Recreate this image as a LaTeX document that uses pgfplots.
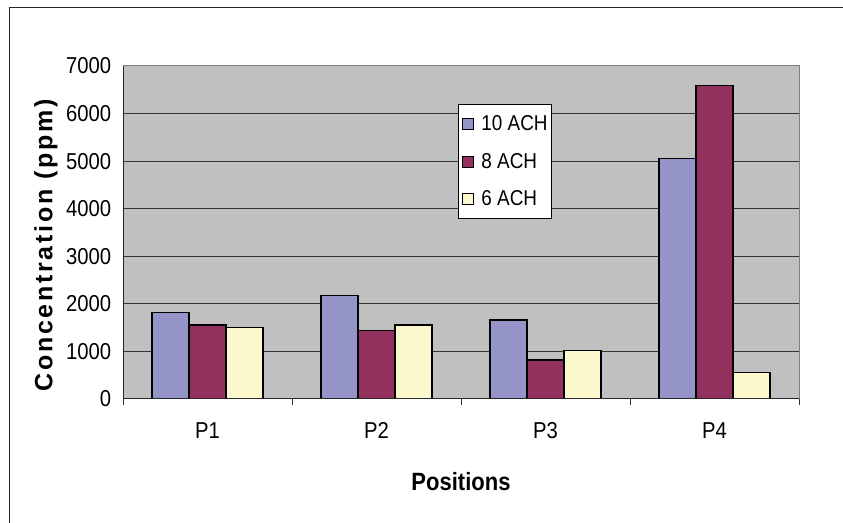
\documentclass[border=0pt]{standalone}
\usepackage{pgfplots}
\pgfplotsset{compat=1.18}
\usepackage{fontspec}
\setmainfont{Liberation Sans}[FakeStretch=0.88]
\newfontfamily\ylabfont{Liberation Sans}[LetterSpace=11]
\definecolor{bgc}{RGB}{192,192,192}
\definecolor{cA}{RGB}{148,148,200}
\definecolor{cB}{RGB}{146,48,94}
\definecolor{cC}{RGB}{251,248,206}
\definecolor{edgegray}{RGB}{128,128,128}
\begin{document}
\begin{tikzpicture}
\path[use as bounding box] (0pt,0pt) rectangle (843pt,522pt);
\fill[white] (0pt,0pt) rectangle (843pt,522pt);
\draw[line width=1.6pt, black!85] (9.5pt,-10pt) -- (9.5pt,514.5pt) -- (860pt,514.5pt);
\begin{axis}[
  at={(123pt,123pt)}, anchor=south west,
  scale only axis, width=676pt, height=333pt,
  xmin=0.5, xmax=4.5, ymin=0, ymax=7000,
  ybar=0pt, bar width=0.219,
  axis background/.style={fill=bgc},
  axis line style={edgegray, line width=1pt},
  xtick pos=bottom, ytick pos=left,
  xtick={1,2,3,4}, xticklabels={P1,P2,P3,P4},
  minor xtick={0.5,1.5,2.5,3.5,4.5},
  major x tick style={draw=none},
  minor x tick style={black!80, line width=1pt},
  minor tick length=6pt, tick align=outside,
  ytick={0,1000,2000,3000,4000,5000,6000,7000},
  major y tick style={draw=none},
  ymajorgrids, major grid style={black!80, line width=1pt},
  /pgf/number format/assume math mode=true,
  yticklabel style={font=\fontsize{23}{27}\selectfont, /pgf/number format/1000 sep={}, xshift=-4pt},
  xticklabel style={font=\fontsize{23}{27}\selectfont, yshift=-16pt},
  xlabel={Positions},
  xlabel style={font=\bfseries\fontsize{25}{30}\selectfont, at={(axis description cs:0.5,-0.249)}, anchor=center},
  ylabel={Concentration (ppm)},
  ylabel style={font=\ylabfont\bfseries\fontsize{25}{30}\selectfont, at={(axis description cs:-0.114,0.461)}, anchor=center},
  legend style={at={(0.4956,0.886)}, anchor=north west, draw=black, fill=white, line width=0.8pt,
    font=\fontsize{21.5}{26}\selectfont, row sep=17pt, inner xsep=2pt, inner ysep=9.5pt},
  legend cell align=left,
  legend image code/.code={\draw[#1, line width=0.8pt] (2pt,-5.5pt) rectangle (13pt,5.5pt); \path[draw=none, fill=none] (0pt,0pt) -- (19pt,0pt);},
  every axis plot/.append style={draw=black, line width=1.2pt},
]
\addplot[fill=cA] coordinates {(1,1822) (2,2170) (3,1661) (4,5060)};
\addplot[fill=cB] coordinates {(1,1555) (2,1436) (3,820) (4,6595)};
\addplot[fill=cC] coordinates {(1,1507) (2,1556) (3,1016) (4,561)};
\legend{10 ACH, 8 ACH, 6 ACH}
\draw[black!85, line width=1.2pt] (rel axis cs:0,1) -- (rel axis cs:0,0) -- (rel axis cs:1,0);
\end{axis}
\end{tikzpicture}
\end{document}
